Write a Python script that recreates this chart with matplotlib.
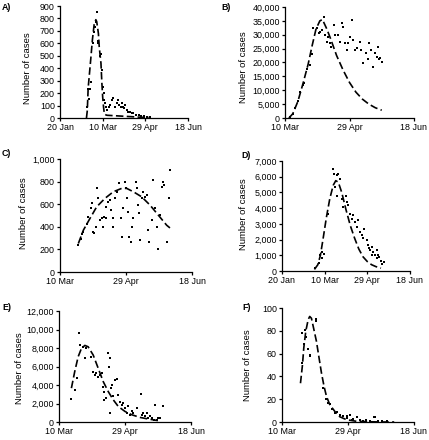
import matplotlib
matplotlib.use('Agg')
import matplotlib.pyplot as plt
from matplotlib.ticker import StrMethodFormatter

plt.rcParams['font.family'] = ['Liberation Sans', 'DejaVu Sans']

# day numbers: panels A and D count from 20 Jan, the others from 10 Mar
ticks_jan = ['20 Jan', '10 Mar', '29 Apr', '18 Jun']
ticks_mar = ['10 Mar', '29 Apr', '18 Jun']

# A) observed and fitted
a_obs_day = [32, 33, 34, 35, 36, 39, 40, 41, 42, 43, 44, 45, 47, 47.5, 49, 50, 51, 52, 53, 54, 55.5, 57,
             58.6, 60.6, 62.5, 64.5, 66.4, 68.4, 69.6, 71, 72.3, 73.5, 75, 76.2, 78, 80, 82, 84, 86, 89,
             92, 95, 98, 102, 105]
a_obs_val = [90, 230, 150, 230, 290, 600, 690, 730, 775, 855, 600, 620, 500, 515, 385, 250, 200, 145, 120, 90, 65, 90,
             105, 145, 158, 90, 117, 145, 104, 90, 117, 90, 77, 104, 64, 51, 51, 37, 37, 24,
             24, 16, 16, 10, 10]
a_fit_day = [31, 32, 33, 36, 38, 40, 42, 43, 45, 46, 48, 49, 50, 51, 52, 55, 65, 75, 85, 95, 106]
a_fit_val = [0, 60, 240, 470, 630, 750, 790, 775, 680, 570, 440, 290, 170, 90, 30, 22, 18, 14, 10, 6, 4]

# B)
b_obs_day = [4, 6, 8, 10, 12, 14, 15, 17, 19, 21, 22, 24.5, 26.6, 27, 28.3, 30.5, 31, 32.3, 33.6, 35, 36,
             38, 39, 41.3, 42.6, 43.9, 44.7, 46.5, 47.8, 49, 50.4, 51.7, 53, 54, 56, 58, 59.3, 60.7,
             62.8, 64, 65.4, 67, 68.4, 69.8, 71, 72.3, 73, 74, 74.9]
b_obs_val = [500, 1500, 3500, 6000, 9500, 11800, 12500, 17500, 19000, 23000, 32300, 32300, 30500, 31100, 31700,
             36500, 29900, 27500, 29300, 27000, 25700, 33500, 30000, 29900, 27500, 34100, 32700, 26900,
             24500, 26900, 29300, 35300, 28100, 24500, 25200, 27500, 24500, 19700, 23300, 21100, 26900,
             24500, 18500, 23300, 22100, 25700, 21100, 21700, 20300]
b_fit_day = [3, 6, 10, 14, 18, 21, 24, 27, 29, 32, 35, 40, 45, 50, 55, 60, 65, 70, 75]
b_fit_val = [0, 1500, 6000, 12500, 19500, 26000, 32000, 35000, 35500, 32500, 29000, 22500, 17300, 12800,
             9300, 6800, 5000, 3700, 2800]

# C)
c_obs_day = [13.9, 15.7, 16.4, 17.7, 20.2, 21.5, 23.2, 24, 25.3, 26, 27, 27.8, 29, 30.3, 31.6, 32.3, 33.3,
             34.6, 34.8, 36.6, 37.9, 38.4, 39.9, 40.4, 41.7, 43.4, 45, 46, 46.7, 48, 49.2, 50, 50.5,
             51.8, 52.5, 53.5, 54.3, 55.6, 57.6, 58.6, 59.3, 60.1, 60.6, 61.9, 63.1, 64.4, 65.7, 66.9,
             67.7, 69.4, 70.7, 72, 73.2, 74.5, 75.8, 77, 78.3, 78.8, 81.3, 82.8, 83.3]
c_obs_val = [237, 296, 332, 350, 429, 488, 562, 607, 355, 345, 400, 740, 651, 459, 474, 400, 488,
             474, 577, 621, 636, 548, 400, 474, 651, 710, 784, 474, 311, 562, 799, 740, 651,
             532, 311, 266, 400, 474, 799, 740, 592, 518, 281, 651, 710, 665, 680, 370,
             266, 459, 814, 562, 400, 207, 503, 754, 799, 770, 266, 651, 902]
c_fit_day = [13.9, 17.7, 22.7, 27.8, 34, 40.4, 46.7, 50.5, 55.6, 61.9, 68.2, 74.5, 80.8, 83.3]
c_fit_val = [252, 370, 474, 577, 651, 710, 740, 740, 710, 665, 592, 503, 414, 390]

# D)
d_obs_day = [39.2, 43, 44.3, 46.3, 47, 49, 54.1, 60, 61.1, 62, 63.9, 63.9, 65.8, 67.8, 69.8, 71.7, 74.9,
             75.6, 77.6, 79.5, 81.5, 83.5, 85.4, 87.4, 89.4, 91.3, 93.3, 95.2, 96, 99.1, 101.1, 101.9,
             103, 105, 105.8, 106.9, 108.8, 110.8, 111.7, 112.8, 113.6, 115.6, 117.5, 119.5]
d_obs_val = [170, 490, 1015, 1230, 800, 1100, 3650, 6510, 6200, 5330, 6090, 4800, 6200, 5880, 4610, 4080, 4800,
             4400, 4190, 3650, 3340, 3550, 3130, 2810, 3240, 2500, 2290, 2080, 2700, 1970, 1650, 1440,
             1330, 1545, 1020, 1230, 1015, 1330, 800, 1015, 900, 660, 450, 550]
d_fit_day = [38, 42, 45, 48, 52, 56, 60, 63, 66, 70, 75, 80, 85, 90, 95, 100, 105, 110, 116]
d_fit_val = [100, 400, 1000, 2000, 3400, 4600, 5450, 5750, 5650, 5000, 3900, 2900, 2100, 1400, 900, 600,
             400, 280, 180]

# E)
e_obs_day = [9.4, 11.9, 13.7, 15, 15.7, 18.3, 19.6, 20.8, 24.6, 25.9, 27.2, 28.4, 29.7, 31, 32.2, 33, 34.3,
             34.4, 35.5, 37.3, 38, 38.6, 39, 39.1, 39.9, 40.6, 42.4, 43.7, 44.9, 46.2, 47.5, 48.7, 50,
             51.3, 52.5, 53.8, 55.1, 56.3, 58.9, 61.9, 62.7, 64, 65.3, 67, 67.8, 69.1, 70.3, 71.6, 72.9,
             74.1, 75.3, 76.6, 78.6]
e_obs_val = [2470, 3470, 4800, 9570, 8280, 8130, 6880, 7960, 7050, 5440, 5080, 5260, 4900, 5080, 5260, 3830, 3290,
             2400, 2600, 7420, 6000, 6880, 970, 3660, 4000, 2760, 4550, 4700, 2900, 2200, 1850, 2030, 1500,
             950, 1680, 790, 1140, 970, 1500, 3010, 790, 970, 610, 970, 430, 610, 430, 250, 1860,
             250, 430, 430, 1680]
e_fit_day = [9.4, 11.9, 14.5, 17, 19.6, 22.1, 25.9, 29.7, 33.5, 37.3, 41.1, 44.9, 50, 55.1, 61.4, 67.8, 74.1, 76.6]
e_fit_val = [3660, 5440, 7050, 7960, 8280, 8130, 7240, 5810, 4370, 3290, 2400, 1680, 1140, 785, 495, 320, 170, 140]

# F)
f_obs_day = [15.2, 15.5, 16.5, 17.2, 18.5, 19.7, 21, 21.5, 25.5, 26.1, 31.2, 33.7, 35, 36.2, 38.2, 40, 41.8,
             43.8, 46.3, 48.9, 49.4, 51.4, 52.7, 54, 56.5, 59, 61.5, 64, 66.6, 69.6, 70.4, 72.9, 75.4, 79.2]
f_obs_val = [78, 52, 68, 81, 75, 64, 59, 58, 90, 89, 30, 20, 17, 16, 11, 8, 9,
             6.4, 5, 3.5, 5, 6.4, 2, 3, 4.4, 2, 1, 2, 1, 4, 4.7, 1, 0.5, 0.5]
f_fit_day = [14, 15.5, 16.5, 18, 19.8, 21, 22.3, 24, 26.1, 28.1, 29.9, 31.9, 33.7, 36.2, 40, 43.8, 48.9,
             56.5, 66.6, 76.7, 85]
f_fit_val = [34, 50, 65, 79.5, 89.7, 92.6, 91, 82, 70.7, 56, 43, 31, 22.5, 15.2, 9.3, 4.6, 2, 0.6, 0.2, 0, 0]

W, H = 429, 440
fig = plt.figure(figsize=(W / 100, H / 100), dpi=100)

# label, axes box in pixels (left, right, top, bottom), x tick labels, y max, y step,
# observed, fitted, letter position, y-label centre
panels = [
    ('A)', (60, 188, 6, 118), ticks_jan, 900, 100, a_obs_day, a_obs_val, a_fit_day, a_fit_val, (2, 8), (28, 68)),
    ('B)', (285, 414, 7, 118), ticks_mar, 40000, 5000, b_obs_day, b_obs_val, b_fit_day, b_fit_val, (221, 8), (244, 67)),
    ('C)', (60, 192, 159, 272), ticks_mar, 1000, 200, c_obs_day, c_obs_val, c_fit_day, c_fit_val, (2, 153), (23, 213)),
    ('D)', (282, 410, 161, 271), ticks_jan, 7000, 1000, d_obs_day, d_obs_val, d_fit_day, d_fit_val, (241, 155), (244, 214)),
    ('E)', (59, 191, 311, 422), ticks_mar, 12000, 2000, e_obs_day, e_obs_val, e_fit_day, e_fit_val, (2, 308), (20, 368)),
    ('F)', (282, 414, 308, 422), ticks_mar, 100, 20, f_obs_day, f_obs_val, f_fit_day, f_fit_val, (242, 308), (247, 365)),
]

for lab, box, xlab, ymax, ystep, od, ov, fd, fv, lpos, ypos in panels:
    l, r, t, b = box
    ax = fig.add_axes([l / W, 1 - b / H, (r - l) / W, (b - t) / H])
    ax.plot(fd, fv, color='black', lw=1.2, linestyle=(0, (4.5, 2)), clip_on=False)
    ax.plot(od, ov, 's', color='black', ms=1.6, mew=0, clip_on=False)
    ax.set_xlim(0, 50 * (len(xlab) - 1))
    ax.set_ylim(0, ymax)
    ax.set_xticks([50 * i for i in range(len(xlab))])
    ax.set_xticklabels(xlab)
    ax.set_yticks(list(range(0, ymax + 1, ystep)))
    ax.yaxis.set_major_formatter(StrMethodFormatter('{x:,.0f}'))
    for s in ['top', 'right']:
        ax.spines[s].set_visible(False)
    for s in ['left', 'bottom']:
        ax.spines[s].set_linewidth(0.9)
    ax.tick_params(direction='out', length=2.2, width=0.9, pad=1.5, labelsize=6.4)
    fig.text(lpos[0] / W, 1 - lpos[1] / H, lab, fontsize=6.4, fontweight='bold', va='center', ha='left')
    fig.text(ypos[0] / W, 1 - ypos[1] / H, 'Number of cases', fontsize=6.8, rotation=90,
             ha='center', va='center')

fig.savefig('out.png', dpi=100)
